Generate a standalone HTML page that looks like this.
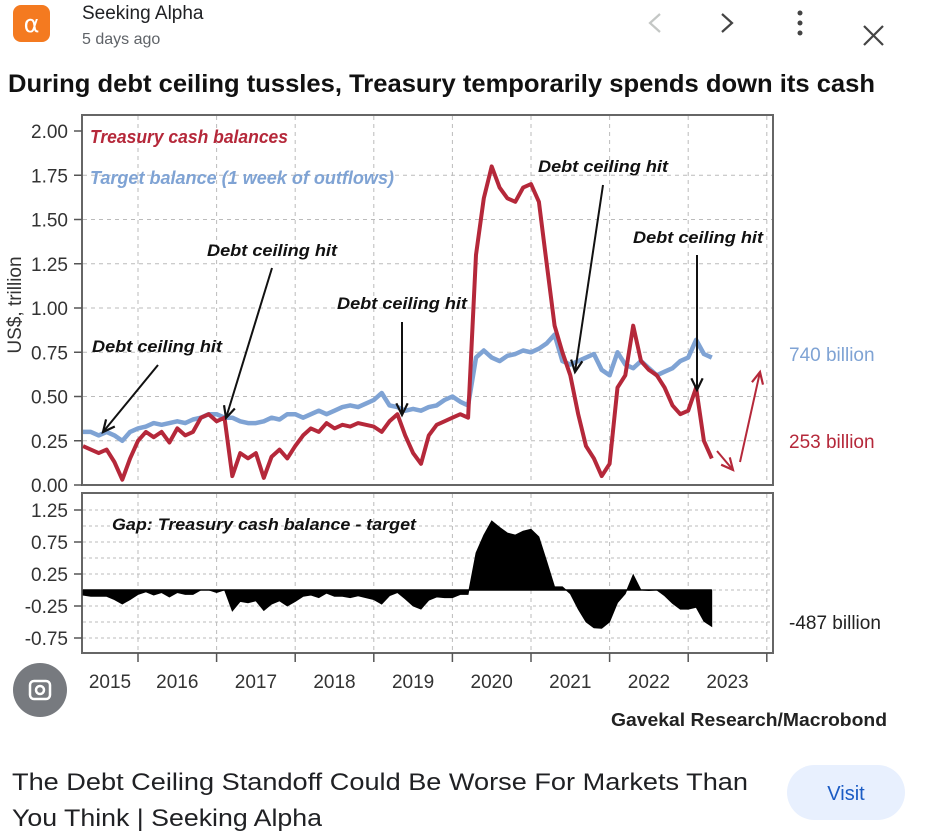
<!DOCTYPE html>
<html><head><meta charset="utf-8"><style>
body{margin:0;background:#fff;width:936px;height:840px;overflow:hidden;font-family:"Liberation Sans",sans-serif}
svg{display:block}
</style></head><body>
<svg id="s" width="936" height="840" viewBox="0 0 936 840" xmlns="http://www.w3.org/2000/svg">
<g>
<rect x="13" y="5" width="37" height="37" rx="8" fill="#f47a20"/>
<text x="31.5" y="32" font-size="24" fill="#fff" text-anchor="middle" font-family="DejaVu Sans">α</text>
<text x="82" y="19" font-size="19" fill="#202124">Seeking Alpha</text>
<text x="82" y="44" font-size="16" fill="#5f6368">5 days ago</text>
<polyline points="660,14 650,23 660,32" fill="none" stroke="#c4c7c5" stroke-width="2.2"/>
<polyline points="722,14 732,23 722,32" fill="none" stroke="#444" stroke-width="2.2"/>
<g fill="#444"><circle cx="800" cy="13" r="2.5"/><circle cx="800" cy="23" r="2.5"/><circle cx="800" cy="33" r="2.5"/></g>
<g stroke="#444" stroke-width="2.2"><line x1="864" y1="26" x2="883" y2="45"/><line x1="883" y1="26" x2="864" y2="45"/></g>
</g>
<text x="8" y="92" font-size="25" font-weight="bold" fill="#111" textLength="867" lengthAdjust="spacingAndGlyphs">During debt ceiling tussles, Treasury temporarily spends down its cash</text>
<g id="grid"></g>
<rect x="82" y="115" width="691" height="370" fill="none" stroke="#666" stroke-width="2"/>
<rect x="82" y="493" width="691" height="160" fill="none" stroke="#666" stroke-width="2"/>
<g id="lower"></g>
<g id="upper"></g>
<g id="ticks" font-size="19" fill="#333"></g>
<text transform="translate(21,305) rotate(-90)" font-size="19" fill="#333" text-anchor="middle">US$, trillion</text>
<clipPath id="lc"><rect x="0" y="520" width="40" height="120"/></clipPath>
<text clip-path="url(#lc)" transform="translate(21,575) rotate(-90)" font-size="19" fill="#333" text-anchor="middle">US$, trillion</text>
<text x="90" y="143" font-size="18" font-style="italic" font-weight="bold" fill="#b5283a" textLength="198" lengthAdjust="spacingAndGlyphs">Treasury cash balances</text>
<text x="90" y="184" font-size="18" font-style="italic" font-weight="bold" fill="#7fa3d4" textLength="304" lengthAdjust="spacingAndGlyphs">Target balance (1 week of outflows)</text>
<text x="112" y="530" font-size="17" font-style="italic" font-weight="bold" fill="#111" textLength="304" lengthAdjust="spacingAndGlyphs">Gap: Treasury cash balance - target</text>
<g id="ann" font-size="17" font-style="italic" font-weight="bold" fill="#111"></g>
<text x="789" y="361" font-size="19" fill="#7fa3d4">740 billion</text>
<text x="789" y="448" font-size="19" fill="#b5283a">253 billion</text>
<text x="789" y="629" font-size="19" fill="#222">-487 billion</text>
<text x="887" y="726" font-size="18" font-weight="bold" fill="#222" text-anchor="end" textLength="276" lengthAdjust="spacingAndGlyphs">Gavekal Research/Macrobond</text>
<g><circle cx="40" cy="690" r="27" fill="#5f6368" opacity="0.85"/><rect x="30" y="681" width="20" height="18" rx="4" fill="none" stroke="#fff" stroke-width="2.5"/><circle cx="40" cy="690" r="4" fill="none" stroke="#fff" stroke-width="2.5"/></g>
<text x="12" y="790" font-size="24" fill="#202124" textLength="736" lengthAdjust="spacingAndGlyphs">The Debt Ceiling Standoff Could Be Worse For Markets Than</text>
<text x="12" y="826" font-size="24" fill="#202124" textLength="310" lengthAdjust="spacingAndGlyphs">You Think | Seeking Alpha</text>
<rect x="787" y="765" width="118" height="55" rx="27.5" fill="#e8f0fe"/>
<text x="846" y="800" font-size="20" fill="#1a5bc4" text-anchor="middle">Visit</text>
</svg>
<script>
const times=[2015.3,2015.4,2015.5,2015.6,2015.7,2015.8,2015.9,2016.0,2016.1,2016.2,2016.3,2016.4,2016.5,2016.6,2016.7,2016.8,2016.9,2017.0,2017.1,2017.2,2017.3,2017.4,2017.5,2017.6,2017.7,2017.8,2017.9,2018.0,2018.1,2018.2,2018.3,2018.4,2018.5,2018.6,2018.7,2018.8,2018.9,2019.0,2019.1,2019.2,2019.3,2019.4,2019.5,2019.6,2019.7,2019.8,2019.9,2020.0,2020.1,2020.2,2020.3,2020.4,2020.5,2020.6,2020.7,2020.8,2020.9,2021.0,2021.1,2021.2,2021.3,2021.4,2021.5,2021.6,2021.7,2021.8,2021.9,2022.0,2022.1,2022.2,2022.3,2022.4,2022.5,2022.6,2022.7,2022.8,2022.9,2023.0,2023.1,2023.2,2023.3];
const cashBalance=[.22,.20,.18,.20,.13,.03,.15,.25,.30,.27,.30,.24,.32,.28,.30,.38,.40,.36,.38,.05,.18,.15,.18,.04,.16,.20,.15,.22,.28,.32,.30,.35,.32,.34,.33,.35,.34,.33,.30,.36,.40,.28,.18,.12,.28,.34,.36,.38,.40,.38,1.30,1.62,1.80,1.68,1.62,1.60,1.68,1.70,1.60,1.25,.90,.75,.62,.40,.22,.15,.05,.12,.55,.62,.90,.70,.65,.62,.55,.45,.40,.42,.55,.25,.15];
const targetBalance=[.30,.30,.28,.30,.28,.25,.30,.32,.33,.35,.34,.35,.36,.35,.37,.38,.40,.40,.38,.38,.36,.35,.35,.36,.38,.37,.40,.40,.38,.40,.42,.40,.42,.44,.45,.44,.46,.48,.52,.45,.44,.42,.43,.42,.44,.45,.48,.50,.47,.45,.72,.76,.72,.70,.73,.74,.76,.75,.77,.80,.85,.70,.68,.70,.72,.74,.65,.62,.75,.68,.66,.70,.66,.62,.64,.66,.70,.72,.82,.74,.72];
const upperTicks=["2.00","1.75","1.50","1.25","1.00","0.75","0.50","0.25","0.00"];
const lowerTicks=["1.25","0.75","0.25","-0.25","-0.75"];
const yearLabels=["2015","2016","2017","2018","2019","2020","2021","2022","2023"];
const NS="http://www.w3.org/2000/svg";
const X=t=>138+(t-2016)*78.6;
const YU=v=>485-v*177;
const YL=v=>590-v*64;
function mk(tag,attrs,parent){const e=document.createElementNS(NS,tag);for(const k in attrs)e.setAttribute(k,attrs[k]);document.getElementById(parent).appendChild(e);return e;}
for(let i=0;i<9;i++){const x=X(2016+i);
 const g=mk('line',{x1:x,x2:x,y1:116,y2:484,stroke:'#bbb','stroke-dasharray':'4,4'},'grid');
 
 const g2=mk('line',{x1:x,x2:x,y1:494,y2:652,stroke:'#bbb','stroke-dasharray':'4,4'},'grid');
 
 const tk=mk('line',{x1:x,x2:x,y1:653,y2:662,stroke:'#555','stroke-width':1.5},'ticks');
 }
upperTicks.forEach(s=>{const v=parseFloat(s),y=YU(v);
 if(v>0&&v<2){const g=mk('line',{x1:83,x2:772,y1:y,y2:y,stroke:'#bbb','stroke-dasharray':'4,4'},'grid');}
 const t=mk('text',{x:68,y:y+7,'text-anchor':'end'},'ticks');t.textContent=s;
 
 mk('line',{x1:74,x2:82,y1:y,y2:y,stroke:'#555','stroke-width':1.5},'ticks');});
for(let v=-0.75;v<=1.26;v+=0.25){const y=YL(v);const g=mk('line',{x1:83,x2:772,y1:y,y2:y,stroke:'#bbb','stroke-dasharray':'3,3'},'grid');}
lowerTicks.forEach(s=>{const v=parseFloat(s),y=YL(v);
 const t=mk('text',{x:68,y:y+7,'text-anchor':'end'},'ticks');t.textContent=s;
 
 mk('line',{x1:74,x2:82,y1:y,y2:y,stroke:'#555','stroke-width':1.5},'ticks');});
yearLabels.forEach((s,i)=>{const cx=i==0?110:X(2015.5+i);const t=mk('text',{x:cx,y:688,'text-anchor':'middle'},'ticks');t.textContent=s;
 });
let d='M'+X(times[0])+','+YL(0);
times.forEach((t,i)=>{d+=' L'+X(t).toFixed(1)+','+YL(cashBalance[i]-targetBalance[i]).toFixed(1);});
d+=' L'+X(times[times.length-1])+','+YL(0)+' Z';
const gap=mk('path',{d:d,fill:'#000',stroke:'#000','stroke-width':0.8},'lower');

mk('line',{x1:X(times[0]),x2:X(times[times.length-1]),y1:YL(0),y2:YL(0),stroke:'#000','stroke-width':1.5},'lower');
const pts=a=>times.map((t,i)=>X(t).toFixed(1)+','+YU(a[i]).toFixed(1)).join(' ');
const bl=mk('polyline',{points:pts(targetBalance),fill:'none',stroke:'#7fa3d4','stroke-width':4.5,'stroke-linejoin':'round'},'upper');

const rl=mk('polyline',{points:pts(cashBalance),fill:'none',stroke:'#b5283a','stroke-width':4,'stroke-linejoin':'round'},'upper');

const ann=[[92,352,158,365,103,432],[207,256,272,268,226,418],[337,309,402,322,402,415],[538,172,603,185,575,372],[633,243,697,255,697,390]];
ann.forEach(a=>{const t=mk('text',{x:a[0],y:a[1],textLength:130,lengthAdjust:'spacingAndGlyphs'},'ann');t.textContent='Debt ceiling hit';
 
 arrow(a[2],a[3],a[4],a[5],'#111');});
function arrow(x1,y1,x2,y2,c){const g=mk('g',{},'ann');
 const l=document.createElementNS(NS,'line');[['x1',x1],['y1',y1],['x2',x2],['y2',y2],['stroke',c],['stroke-width',2]].forEach(p=>l.setAttribute(p[0],p[1]));g.appendChild(l);
 const an=Math.atan2(y2-y1,x2-x1),L=13;
 const p=document.createElementNS(NS,'polyline');
 p.setAttribute('points',(x2-L*Math.cos(an-0.45))+','+(y2-L*Math.sin(an-0.45))+' '+x2+','+y2+' '+(x2-L*Math.cos(an+0.45))+','+(y2-L*Math.sin(an+0.45)));
 p.setAttribute('fill','none');p.setAttribute('stroke',c);p.setAttribute('stroke-width',2.2);g.appendChild(p);}
arrow(717,451,733,470,'#b5283a');
arrow(740,462,760,372,'#b5283a');
</script>
</body></html>
